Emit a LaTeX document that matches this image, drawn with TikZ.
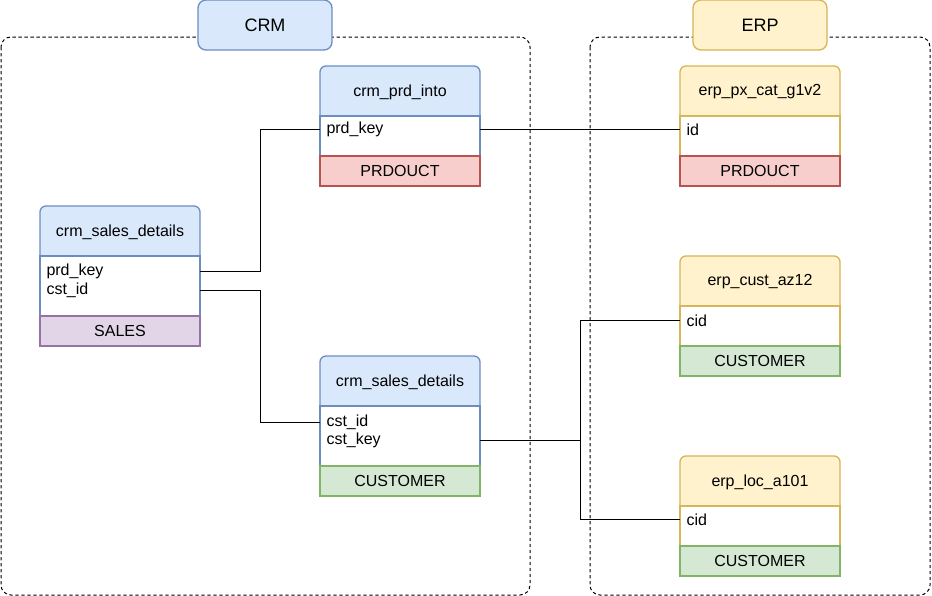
\documentclass[tikz,border=0pt]{standalone}
\usepackage{fontspec}
\setmainfont{Liberation Sans}
\usetikzlibrary{positioning}

\definecolor{crmfill}{HTML}{DAE8FC}
\definecolor{crmline}{HTML}{6C8EBF}
\definecolor{erpfill}{HTML}{FFF2CC}
\definecolor{erpline}{HTML}{D6B656}
\definecolor{prdfill}{HTML}{F8CECC}
\definecolor{prdline}{HTML}{B85450}
\definecolor{custfill}{HTML}{D5E8D4}
\definecolor{custline}{HTML}{82B366}
\definecolor{salesfill}{HTML}{E1D5E7}
\definecolor{salesline}{HTML}{9673A6}

\begin{document}
\begin{tikzpicture}[x=0.75pt, y=-0.75pt, line width=0.75pt,
  font=\fontsize{12}{14}\selectfont,
  crm/.style={draw=crmline, fill=crmfill, line width=1pt},
  erp/.style={draw=erpline, fill=erpfill, line width=1pt},
  prd/.style={draw=prdline, fill=prdfill},
  cust/.style={draw=custline, fill=custfill},
  sales/.style={draw=salesline, fill=salesfill},
  group/.style={draw=black, dash pattern=on 2.5pt off 2pt, rounded corners=7.5pt},
  grouptitle/.style={rounded corners=6pt, minimum width=100.5pt, minimum height=37.5pt, font=\fontsize{13.5}{16}\selectfont},
  body/.style={fill=white, line width=1pt, minimum width=120pt, inner sep=0pt, outer sep=0pt, anchor=north west},
  tag/.style={line width=1pt, minimum width=120pt, minimum height=22.5pt, inner sep=0pt, outer sep=0pt, below=0pt of #1},
  row/.style={anchor=west, inner sep=1.5pt}]

\useasboundingbox (0,0) rectangle (932,596);

% draw the two groups
\draw[group] (1,37) rectangle (530,595);
\draw[group] (590,37) rectangle (930,595);
\node[grouptitle, crm] (crmtitle) at (265,25) {CRM};
\node[grouptitle, erp] (erptitle) at (760,25) {ERP};

% draw crm tables
\filldraw[crm, rounded corners=4.5pt] (40,206) rectangle (200,266);
\node (sdhead) at (120,232) {crm\_sales\_details};
\node[body, draw=crmline, minimum height=45pt] (sdbody) at (40,256) {};
\node[tag=sdbody, sales] (sdtag) {SALES};
\node[row] (sdprd) at (44,271.5) {prd\_key};
\node[row] (sdcst) at (44,290.5) {cst\_id};

\filldraw[crm, rounded corners=4.5pt] (320,66) rectangle (480,126);
\node (pihead) at (400,92) {crm\_prd\_into};
\node[body, draw=crmline, minimum height=30pt] (pibody) at (320,116) {};
\node[tag=pibody, prd] (pitag) {PRDOUCT};
\node[row] (piprd) at (324,129.5) {prd\_key};

\filldraw[crm, rounded corners=4.5pt] (320,356) rectangle (480,416);
\node (schead) at (400,382) {crm\_sales\_details};
\node[body, draw=crmline, minimum height=45pt] (scbody) at (320,406) {};
\node[tag=scbody, cust] (sctag) {CUSTOMER};
\node[row] (sccst) at (324,422.5) {cst\_id};
\node[row] (sckey) at (324,440) {cst\_key};

% draw erp tables
\filldraw[erp, rounded corners=4.5pt] (680,66) rectangle (840,126);
\node (pxhead) at (760,92) {erp\_px\_cat\_g1v2};
\node[body, draw=erpline, minimum height=30pt] (pxbody) at (680,116) {};
\node[tag=pxbody, prd] (pxtag) {PRDOUCT};
\node[row] (pxid) at (684,129.5) {id};

\filldraw[erp, rounded corners=4.5pt] (680,256) rectangle (840,316);
\node (cahead) at (760,282) {erp\_cust\_az12};
\node[body, draw=erpline, minimum height=30pt] (cabody) at (680,306) {};
\node[tag=cabody, cust] (catag) {CUSTOMER};
\node[row] (cacid) at (684,320.5) {cid};

\filldraw[erp, rounded corners=4.5pt] (680,456) rectangle (840,516);
\node (lohead) at (760,482) {erp\_loc\_a101};
\node[body, draw=erpline, minimum height=30pt] (lobody) at (680,506) {};
\node[tag=lobody, cust] (lotag) {CUSTOMER};
\node[row] (locid) at (684,519.5) {cid};

% draw connectors
\draw (sdbody.east |- sdprd) -- ++(60,0) |- (pibody.west |- piprd);
\draw (sdbody.east |- sdcst) -- ++(60,0) |- (scbody.west |- sccst);
\draw (pibody.east |- piprd) -- (pxbody.west |- pxid);
\coordinate (fork) at (580,440);
\draw (scbody.east |- sckey) -- (fork) |- (cabody.west |- cacid);
\draw (fork) |- (lobody.west |- locid);

\end{tikzpicture}
\end{document}
